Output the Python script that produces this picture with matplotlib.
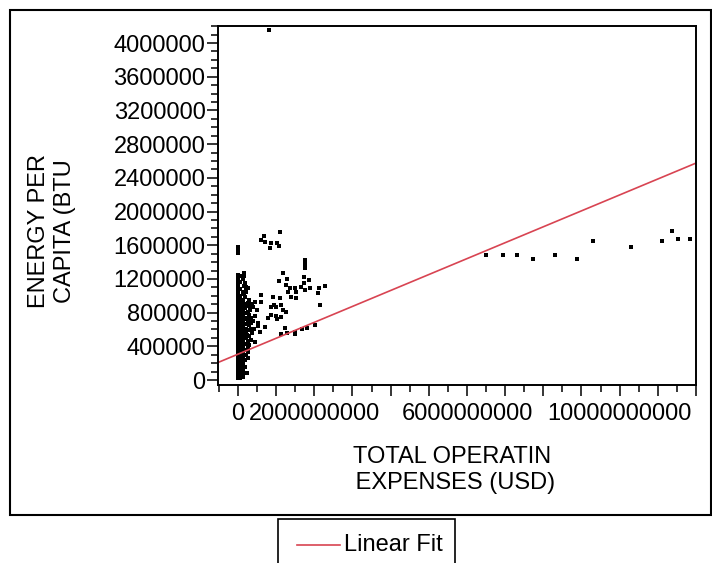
import numpy as np
import matplotlib.pyplot as plt
from matplotlib.patches import Rectangle
from matplotlib.ticker import MultipleLocator, FuncFormatter

plt.rcParams['font.family'] = ['Liberation Sans', 'DejaVu Sans']

# dense column near zero expenses
cluster_x = [0.0] * 39 + [0.06e9] * 33 + [0.12e9] * 30
cluster_y = [1578000, 1543000, 1507000,
             1250000, 1215000, 1180000, 1140000, 1100000, 1060000, 1020000, 985000,
             947000, 912000, 878000, 843000, 810000, 775000, 742000, 707000, 673000,
             640000, 605000, 571000, 538000, 503000, 470000, 436000, 401000, 368000,
             333000, 300000, 265000, 231000, 198000, 162000, 130000, 95000, 62000, 30000,
             1230000, 1160000, 1080000, 1000000, 965000, 930000, 895000, 860000, 826000,
             792000, 758000, 724000, 690000, 656000, 622000, 588000, 554000, 520000,
             486000, 452000, 418000, 384000, 350000, 316000, 282000, 248000, 214000,
             180000, 146000, 112000, 78000, 44000, 22000,
             1200000, 1050000, 950000, 915000, 880000, 846000, 812000, 777000, 744000,
             709000, 676000, 641000, 607000, 573000, 540000, 505000, 472000, 437000,
             404000, 370000, 336000, 302000, 268000, 234000, 200000, 166000, 132000,
             98000, 64000, 35000]

# points just right of the column
edge_x = [0.19e9, 0.22e9, 0.20e9, 0.21e9, 0.18e9, 0.22e9, 0.20e9, 0.19e9, 0.21e9,
          0.20e9, 0.22e9, 0.19e9, 0.21e9, 0.20e9, 0.18e9, 0.19e9,
          0.30e9, 0.28e9, 0.32e9, 0.29e9, 0.31e9, 0.30e9, 0.33e9, 0.28e9, 0.30e9,
          0.40e9, 0.45e9, 0.38e9, 0.42e9, 0.50e9, 0.52e9,
          0.26e9, 0.21e9, 0.18e9,
          0.25e9, 0.25e9, 0.26e9, 0.24e9, 0.25e9, 0.26e9, 0.24e9, 0.25e9, 0.26e9,
          0.35e9, 0.36e9, 0.34e9, 0.35e9, 0.37e9,
          0.15e9, 0.17e9, 0.16e9, 0.17e9]
edge_y = [1150000, 1110000, 1070000, 900000, 850000, 790000, 720000, 660000, 610000,
          560000, 500000, 430000, 360000, 300000, 240000, 150000,
          950000, 880000, 830000, 770000, 700000, 650000, 600000, 520000, 420000,
          870000, 760000, 700000, 610000, 830000, 640000,
          1090000, 1044000, 985000,
          330000, 390000, 460000, 530000, 590000, 680000, 740000, 810000, 920000,
          480000, 560000, 680000, 740000, 900000,
          1270000, 1230000, 1120000, 1020000]

# scattered points up to ~2.3e9
spread_x = [1.108e9, 0.681e9, 0.610e9, 0.715e9, 0.872e9, 1.022e9, 1.074e9, 0.831e9,
            1.763e9, 1.763e9, 1.763e9, 1.179e9, 1.066e9, 1.292e9, 1.729e9, 1.860e9,
            1.729e9, 1.265e9, 1.355e9, 1.486e9, 1.658e9, 1.894e9, 2.114e9, 2.272e9,
            1.763e9, 1.310e9, 1.527e9, 2.096e9, 1.381e9, 1.527e9, 2.140e9, 0.917e9,
            1.093e9, 0.610e9, 0.610e9, 0.438e9, 0.943e9, 0.857e9, 1.003e9, 1.134e9,
            1.179e9, 1.265e9, 0.872e9, 1.003e9, 1.134e9, 0.786e9, 1.030e9, 0.524e9,
            0.700e9, 0.569e9, 1.134e9, 1.292e9, 1.486e9, 1.486e9, 1.677e9, 1.816e9,
            2.025e9, 0.453e9, 0.262e9, 0.236e9, 1.230e9]
spread_y = [1760000, 1713000, 1662000, 1641000, 1622000, 1622000, 1594000, 1563000,
            1424000, 1377000, 1326000, 1266000, 1175000, 1199000, 1226000, 1187000,
            1148000, 1128000, 1088000, 1088000, 1107000, 1088000, 1096000, 1119000,
            1068000, 1048000, 1048000, 1029000, 989000, 977000, 890000, 989000,
            977000, 1009000, 929000, 922000, 890000, 870000, 870000, 890000,
            831000, 804000, 771000, 763000, 751000, 732000, 724000, 673000,
            633000, 573000, 542000, 554000, 573000, 542000, 605000, 614000,
            653000, 455000, 258000, 83000, 617000]

# large operators on the right
far_x = [6.49e9, 6.95e9, 7.32e9, 7.74e9, 8.30e9, 8.88e9, 9.30e9, 10.29e9,
         11.11e9, 11.37e9, 11.53e9, 11.84e9]
far_y = [1480000, 1480000, 1480000, 1433000, 1480000, 1433000, 1646000, 1575000,
         1646000, 1765000, 1670000, 1670000]

outlier_x = [0.81e9]
outlier_y = [4154000]

fit_intercept = 307000
fit_slope = 1.89e-4

x_labels = {0: '0', 2: '2000000000', 6: '6000000000', 10: '10000000000'}

W, H = 712, 563
fig = plt.figure(figsize=(W / 100, H / 100), dpi=100)
ax = fig.add_axes([218 / W, 1 - 385 / H, (696 - 218) / W, (385 - 26) / H])

all_x = cluster_x + edge_x + spread_x + far_x + outlier_x
all_y = cluster_y + edge_y + spread_y + far_y + outlier_y
ax.plot(all_x, all_y, linestyle='none', marker='s', ms=2.8, mew=0, color='black')

xl = (-0.524e9, 12.0e9)
xs = np.array(xl)
ax.plot(xs, fit_intercept + fit_slope * xs, color='#d84452', lw=1.2)

ax.set_xlim(xl)
ax.set_ylim(-59000, 4202000)

ax.xaxis.set_major_locator(MultipleLocator(1e9))
ax.xaxis.set_minor_locator(MultipleLocator(0.5e9))
ax.yaxis.set_major_locator(MultipleLocator(400000))
ax.yaxis.set_minor_locator(MultipleLocator(100000))
ax.xaxis.set_major_formatter(FuncFormatter(lambda v, p: x_labels.get(int(round(v / 1e9)), '')))
ax.yaxis.set_major_formatter(FuncFormatter(lambda v, p: '%d' % round(v)))

ax.tick_params(which='major', length=8, width=1.1, labelsize=17, direction='out')
ax.tick_params(which='minor', length=5, width=1.1, direction='out')
ax.tick_params(axis='y', pad=1)
ax.tick_params(axis='x', pad=5)
for s in ax.spines.values():
    s.set_linewidth(1.4)

fig.text(52 / W, 1 - 231 / H, 'ENERGY PER\nCAPITA (BTU', rotation=90, fontsize=17,
         ha='center', va='center', multialignment='center')
fig.text(452 / W, 1 - 470 / H, 'TOTAL OPERATIN\n EXPENSES (USD)', fontsize=17,
         ha='center', va='center', multialignment='center')

# outer frame and legend box
fig.patches.append(Rectangle((10 / W, 1 - 515 / H), 701 / W, 505 / H, transform=fig.transFigure,
                             fill=False, lw=1.5, ec='black'))
fig.patches.append(Rectangle((278 / W, -0.02), 177 / W, 1 - 519 / H + 0.02, transform=fig.transFigure,
                             fill=False, lw=1.2, ec='black'))
fig.lines.append(plt.Line2D([297 / W, 340 / W], [1 - 545 / H] * 2, transform=fig.transFigure,
                            color='#d84452', lw=1.2))
fig.text(344 / W, 1 - 545 / H, 'Linear Fit', fontsize=17, ha='left', va='center')

fig.savefig('out.png', dpi=100)
